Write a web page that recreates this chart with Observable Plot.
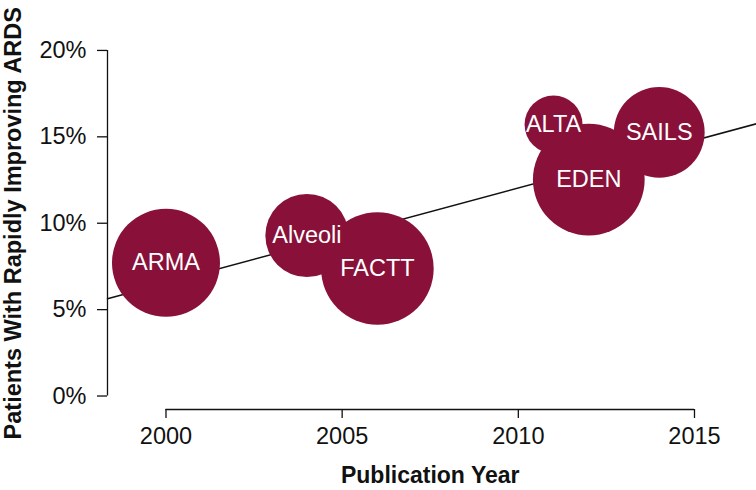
<!DOCTYPE html>
<html>
<head>
<meta charset="utf-8">
<script src="https://cdn.jsdelivr.net/npm/d3@7"></script>
<script src="https://cdn.jsdelivr.net/npm/@observablehq/plot@0.6"></script>
<style>
  html, body { margin: 0; padding: 0; background: #fff; }
  #chart svg { display: block; }
  #chart g[aria-label="x-axis tick label"] text,
  #chart g[aria-label="y-axis tick label"] text { font-size: 23.5px; }
</style>
</head>
<body>
<div id="chart"></div>
<script>
// Data
const trialNames = ["ARMA", "Alveoli", "FACTT", "ALTA", "EDEN", "SAILS"];
const trialYears = [2000, 2004, 2006, 2011, 2012, 2014];
const trialPct = [7.71, 9.29, 7.38, 15.71, 12.53, 15.26];     // % rapidly improving ARDS
const trialSize = [920, 545, 1000, 265, 985, 650];            // bubble size (estimated)
const fitAt2000 = 6.54;    // regression line value at year 2000 (%)
const fitSlope = 0.55;     // % per year
const xTicks = [2000, 2005, 2010, 2015];
const yTicks = [0, 5, 10, 15, 20];
const xDomain = [1998.34, 2016.76];
const yDomain = [-0.78, 22.89];
const xTitle = "Publication Year";
const yTitle = "Patients With Rapidly Improving ARDS";

const trials = trialNames.map((name, i) => ({name, year: trialYears[i], pct: trialPct[i], n: trialSize[i]}));
const fitLine = xDomain.map(x => ({x, y: fitAt2000 + fitSlope * (x - 2000)}));
const bubbleColor = "#881039";
const xMid = (xTicks[0] + xTicks[xTicks.length - 1]) / 2;
const yMid = (yTicks[0] + yTicks[yTicks.length - 1]) / 2;

const chart = Plot.plot({
  width: 756,
  height: 490,
  marginLeft: 107,
  marginRight: 0,
  marginTop: 0,
  marginBottom: 81,
  style: {fontFamily: "Helvetica, Arial, 'Liberation Sans', sans-serif", fontSize: "23px", background: "#fff", overflow: "visible", color: "#111"},
  x: {domain: xDomain},
  y: {domain: yDomain},
  r: {type: "sqrt", domain: [0, 1000], range: [0, 56.3]},
  marks: [
    Plot.ruleX([xDomain[0]], {y1: yTicks[0], y2: yTicks[yTicks.length - 1], stroke: "#111", strokeWidth: 1.3}),
    Plot.ruleY([yDomain[0]], {x1: xTicks[0], x2: xTicks[xTicks.length - 1], stroke: "#111", strokeWidth: 1.3}),
    Plot.axisX({ticks: xTicks, tickSize: 9, tickPadding: 9, strokeWidth: 1.3, tickFormat: d => String(d), label: null}),
    Plot.axisY({ticks: yTicks, tickSize: 10, tickPadding: 11, strokeWidth: 1.3, tickFormat: d => d + "%", label: null}),
    Plot.text([xTitle], {x: xMid, y: yDomain[0], dy: 66, text: d => d, fontSize: 23, fontWeight: "bold", fill: "#111", lineAnchor: "middle"}),
    Plot.text([yTitle], {x: xDomain[0], y: yMid, dx: -94, text: d => d, rotate: -90, fontSize: 23.5, fontWeight: "bold", fill: "#111", lineAnchor: "middle"}),
    Plot.line(fitLine, {x: "x", y: "y", stroke: "#111", strokeWidth: 1.5}),
    Plot.dot(trials, {x: "year", y: "pct", r: "n", fill: bubbleColor, stroke: "none"}),
    Plot.text(trials, {x: "year", y: "pct", text: "name", fill: "white", fontSize: 23.5})
  ]
});
document.getElementById("chart").appendChild(chart);
</script>
</body>
</html>
